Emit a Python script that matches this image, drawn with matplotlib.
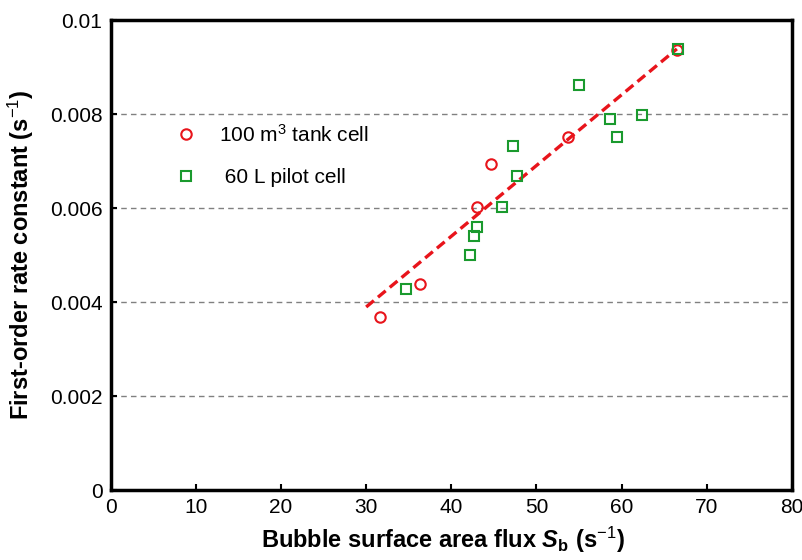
import numpy as np
import matplotlib
matplotlib.use("Agg")
import matplotlib.pyplot as plt

plt.rcParams["font.family"] = ["Liberation Sans", "DejaVu Sans"]
plt.rcParams["mathtext.fontset"] = "custom"
plt.rcParams["mathtext.rm"] = "Liberation Sans"
plt.rcParams["mathtext.it"] = "Liberation Sans:italic"
plt.rcParams["mathtext.bf"] = "Liberation Sans:bold"
plt.rcParams["mathtext.bfit"] = "Liberation Sans:bold:italic"

# 100 m3 tank cell
tank_sb = [31.6, 36.3, 43.0, 44.7, 53.7, 66.5]
tank_k = [0.00368, 0.00438, 0.00602, 0.00694, 0.00752, 0.00936]

# 60 L pilot cell
pilot_sb = [34.7, 42.2, 42.7, 43.0, 46.0, 47.7, 47.3, 55.0, 58.7, 59.5, 62.4, 66.6]
pilot_k = [0.00427, 0.00501, 0.00540, 0.00559, 0.00602, 0.00669, 0.00733,
           0.00861, 0.00789, 0.00752, 0.00799, 0.00938]

# Linear fit line
fit_slope = 0.0001505
fit_intercept = -0.00062
fit_range = [30.0, 66.5]

x_ticks = [0, 10, 20, 30, 40, 50, 60, 70, 80]
y_ticks = [0, 0.002, 0.004, 0.006, 0.008, 0.01]
y_tick_labels = ["0", "0.002", "0.004", "0.006", "0.008", "0.01"]

fig = plt.figure(figsize=(8.03, 5.6), dpi=100)
ax = fig.add_axes([0.138, 0.125, 0.848, 0.839])

# dashed gridlines
for yv in y_ticks[1:-1]:
    ax.axhline(yv, color="#808080", linestyle=(0, (4, 3)), linewidth=1.0, zorder=1)

fx = np.array(fit_range)
ax.plot(fx, fit_slope * fx + fit_intercept, color="#e8141b",
        linestyle=(0, (3, 1.6)), linewidth=2.4, zorder=2)

ax.plot(tank_sb, tank_k, linestyle="none", marker="o", markersize=7.5,
        markerfacecolor="none", markeredgecolor="#e8141b", markeredgewidth=1.5,
        label="100 m$^3$ tank cell", zorder=3)
ax.plot(pilot_sb, pilot_k, linestyle="none", marker="s", markersize=7.5,
        markerfacecolor="none", markeredgecolor="#1a9a2e", markeredgewidth=1.5,
        label=" 60 L pilot cell", zorder=3)

ax.set_xlim(0, 80)
ax.set_ylim(0, 0.01)
ax.set_xticks(x_ticks)
ax.set_yticks(y_ticks)
ax.set_yticklabels(y_tick_labels)
ax.tick_params(direction="in", length=4, width=1.5, labelsize=15, pad=6)

for sp in ax.spines.values():
    sp.set_linewidth(2.5)

ax.set_xlabel(r"Bubble surface area flux $\mathbfit{S}_{\mathbf{b}}$ (s$^{-1}$)",
              fontsize=17, fontweight="bold", labelpad=9)
ax.xaxis.set_label_coords(0.488, -0.075)
ax.set_ylabel(r"First-order rate constant (s$^{-1}$)",
              fontsize=17, fontweight="bold", labelpad=10)

ax.legend(loc="center left", bbox_to_anchor=(0.095, 0.712), frameon=False,
          fontsize=15, labelspacing=1.1, handletextpad=1.1, handlelength=1.0,
          borderpad=0, borderaxespad=0)

fig.savefig("out.png", dpi=100)
